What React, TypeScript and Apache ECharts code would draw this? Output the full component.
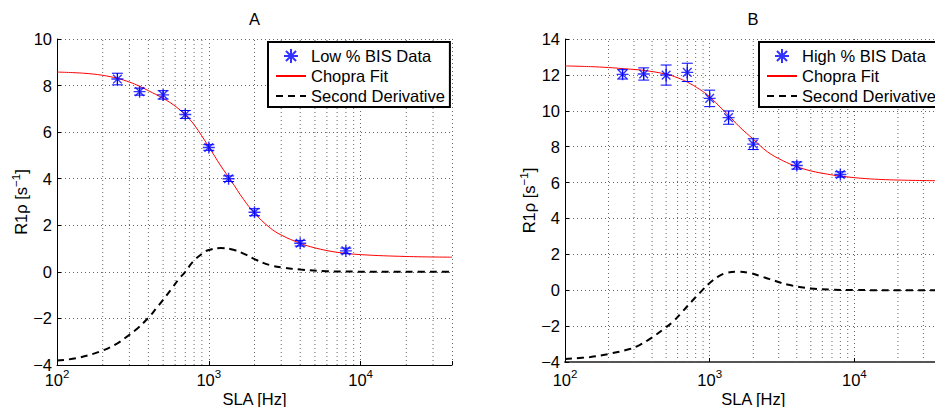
import React, { useEffect, useRef } from "react";
import * as echarts from "echarts";

// ---------- data ----------
const slaHz = [250, 350, 500, 700, 1000, 1350, 2000, 4000, 8000];

const lowBis = [8.28, 7.74, 7.6, 6.76, 5.34, 4.0, 2.56, 1.23, 0.9];
const lowBisErr = [0.25, 0.15, 0.18, 0.17, 0.12, 0.12, 0.15, 0.12, 0.12];

const highBis = [12.03, 12.05, 11.99, 12.14, 10.69, 9.62, 8.14, 6.95, 6.45];
const highBisErr = [0.26, 0.34, 0.56, 0.51, 0.46, 0.37, 0.3, 0.2, 0.15];

const fitHzA = [100, 150, 200, 250, 300, 350, 400, 500, 600, 700, 800, 1000, 1200, 1400, 1700, 2000, 2500, 3000, 4000, 5000, 7000, 10000, 20000, 40000];
const chopraFitA = [8.58, 8.53, 8.44, 8.31, 8.15, 7.97, 7.78, 7.45, 7.12, 6.74, 6.32, 5.37, 4.55, 3.92, 3.1, 2.52, 1.92, 1.58, 1.23, 1.03, 0.84, 0.74, 0.66, 0.63];

const derivHzA = [100, 133, 190, 250, 300, 340, 400, 450, 500, 565, 640, 700, 785, 900, 1000, 1200, 1450, 1770, 2000, 2500, 3100, 4000, 6000, 9000, 20000, 40000];
const secondDerivA = [-3.81, -3.71, -3.43, -3.07, -2.7, -2.42, -1.97, -1.57, -1.2, -0.75, -0.28, 0.0, 0.43, 0.77, 0.94, 1.02, 0.95, 0.73, 0.55, 0.3, 0.18, 0.1, 0.03, 0.01, 0, 0];

const fitHzB = [100, 150, 200, 250, 350, 500, 600, 700, 850, 1000, 1200, 1350, 1600, 2000, 2500, 3200, 4000, 5000, 6500, 8000, 12000, 20000, 40000];
const chopraFitB = [12.5, 12.46, 12.41, 12.35, 12.25, 12.04, 11.84, 11.6, 11.2, 10.78, 10.15, 9.75, 9.12, 8.42, 7.72, 7.22, 6.89, 6.65, 6.47, 6.36, 6.22, 6.14, 6.1];

const derivHzB = [100, 150, 200, 280, 330, 400, 475, 560, 640, 750, 850, 1000, 1150, 1300, 1550, 1900, 2200, 2600, 3500, 5000, 7000, 10000, 20000, 40000];
const secondDerivB = [-3.83, -3.72, -3.55, -3.28, -3.04, -2.63, -2.2, -1.74, -1.24, -0.63, -0.16, 0.4, 0.77, 0.96, 1.03, 0.96, 0.81, 0.62, 0.3, 0.1, 0.03, 0.01, 0, 0];

const minorGridHz = [200, 300, 400, 500, 600, 700, 800, 900, 2000, 3000, 4000, 5000, 6000, 7000, 8000, 9000, 20000, 30000];

const xRange = [100, 40000];
const yRangeA = [-4, 10];
const yRangeB = [-4, 14];
const yStep = 2;

const legendA = ["Low % BIS Data", "Chopra Fit", "Second Derivative"];
const legendB = ["High % BIS Data", "Chopra Fit", "Second Derivative"];
const titles = ["A", "B"];

// ---------- styling ----------
const FONT = '"Liberation Sans", Arial, Helvetica, sans-serif';
const FS = 16.5;
const BLUE = "#0000ff";
const STAR = "path://M0,-5L0,5M-5,0L5,0M-3.6,-3.6L3.6,3.6M-3.6,3.6L3.6,-3.6";
const GRID_LINE = { type: [1, 3], color: "#666", width: 1 };

function logLabel(v: number) {
  const e = Math.log10(v);
  if (Math.abs(e - Math.round(e)) > 1e-6) return "";
  return `{b|10}{s|${Math.round(e)}}`;
}

function yLabel(v: number) {
  return v < 0 ? "\u2212" + Math.abs(v) : String(v);
}

function makeX(gridIndex: number, lineColor: string, lineWidth: number, margin: number, nameGap: number) {
  return {
    type: "log",
    logBase: 10,
    gridIndex,
    min: xRange[0],
    max: xRange[1],
    name: "SLA [Hz]",
    nameLocation: "middle",
    nameGap,
    nameMoveOverlap: false,
    nameTextStyle: { fontSize: FS, lineHeight: 17, color: "#000", fontFamily: FONT },
    axisLine: { show: true, onZero: false, lineStyle: { color: lineColor, width: lineWidth } },
    axisTick: { show: true, inside: true, length: 4, lineStyle: { color: "#000" } },
    axisLabel: {
      formatter: logLabel,
      margin,
      color: "#000",
      fontFamily: FONT,
      rich: {
        b: { fontSize: FS, lineHeight: 24, color: "#000", fontFamily: FONT },
        s: { fontSize: 11.5, lineHeight: 10, verticalAlign: "top", color: "#000", fontFamily: FONT },
      },
    },
    splitLine: { show: true, lineStyle: GRID_LINE },
  };
}

function makeY(gridIndex: number, range: number[]) {
  return {
    type: "value",
    gridIndex,
    min: range[0],
    max: range[1],
    interval: yStep,
    name: "{b|R1\u03c1 [s}{s|\u22121}{b|]}",
    nameLocation: "middle",
    nameRotate: 90,
    nameGap: 25,
    nameMoveOverlap: false,
    nameTextStyle: {
      color: "#000",
      fontFamily: FONT,
      rich: {
        b: { fontSize: FS, lineHeight: 22, color: "#000", fontFamily: FONT },
        s: { fontSize: 11.5, lineHeight: 10, verticalAlign: "top", color: "#000", fontFamily: FONT },
      },
    },
    axisLine: { show: true, onZero: false, lineStyle: { color: "#000", width: 1 } },
    axisTick: { show: true, inside: true, length: 4, lineStyle: { color: "#000" } },
    axisLabel: { formatter: yLabel, fontSize: FS, margin: 5, color: "#000", fontFamily: FONT },
    splitLine: { show: true, lineStyle: GRID_LINE },
  };
}

function makeLegend(left: number, names: string[]) {
  return {
    left,
    top: 42,
    orient: "vertical",
    data: names.map((name, i) => (i === 0 ? { name } : { name, itemStyle: { opacity: 0 } })),
    itemWidth: 30,
    itemHeight: 14,
    itemGap: 2,
    padding: [5, 5, 2, 7],
    borderColor: "#000",
    borderWidth: 2,
    borderRadius: 0,
    backgroundColor: "#fff",
    selectedMode: false,
    textStyle: { fontSize: FS, lineHeight: 18, color: "#000", fontFamily: FONT },
  };
}

function errorBarSeries(idx: number, ys: number[], errs: number[]) {
  return {
    type: "custom",
    name: "err" + idx,
    xAxisIndex: idx,
    yAxisIndex: idx,
    z: 4,
    silent: true,
    encode: { x: 0, y: 1 },
    data: slaHz.map((x, i) => [x, ys[i], errs[i]]),
    renderItem: (_p: any, api: any) => {
      const x = api.value(0);
      const y = api.value(1);
      const e = api.value(2);
      const top = api.coord([x, y + e]);
      const bot = api.coord([x, y - e]);
      const hw = 5.5;
      const style = { stroke: BLUE, lineWidth: 1 };
      return {
        type: "group",
        children: [
          { type: "line", shape: { x1: top[0], y1: top[1], x2: bot[0], y2: bot[1] }, style },
          { type: "line", shape: { x1: top[0] - hw, y1: top[1], x2: top[0] + hw, y2: top[1] }, style },
          { type: "line", shape: { x1: bot[0] - hw, y1: bot[1], x2: bot[0] + hw, y2: bot[1] }, style },
        ],
      };
    },
  };
}

function minorGridSeries(idx: number, range: number[]) {
  return {
    type: "custom",
    name: "minor" + idx,
    xAxisIndex: idx,
    yAxisIndex: idx,
    z: 1,
    silent: true,
    encode: { x: 0, y: 1 },
    data: minorGridHz.map((x) => [x, range[0]]),
    renderItem: (_p: any, api: any) => {
      const x = api.value(0);
      const a = api.coord([x, range[0]]);
      const b = api.coord([x, range[1]]);
      return {
        type: "line",
        shape: { x1: a[0], y1: a[1], x2: b[0], y2: b[1] },
        style: { stroke: GRID_LINE.color, lineWidth: 1, lineDash: GRID_LINE.type },
      };
    },
  };
}

function scatterSeries(idx: number, name: string, ys: number[]) {
  return {
    type: "scatter",
    name,
    xAxisIndex: idx,
    yAxisIndex: idx,
    z: 5,
    symbol: STAR,
    symbolSize: 12,
    symbolKeepAspect: true,
    itemStyle: { color: "rgba(0,0,0,0)", borderColor: BLUE, borderWidth: 1.4 },
    emphasis: { disabled: true },
    data: slaHz.map((x, i) => [x, ys[i]]),
  };
}

function lineSeries(idx: number, name: string, xs: number[], ys: number[], lineStyle: any) {
  return {
    type: "line",
    name,
    xAxisIndex: idx,
    yAxisIndex: idx,
    z: 3,
    symbol: "none",
    showSymbol: false,
    smooth: 0.4,
    lineStyle,
    itemStyle: { color: lineStyle.color, opacity: 0 },
    emphasis: { disabled: true },
    data: xs.map((x, i) => [x, ys[i]]),
  };
}

export default function App() {
  const ref = useRef<HTMLDivElement>(null);

  useEffect(() => {
    if (!ref.current) return;
    const chart = echarts.init(ref.current, undefined, { renderer: "svg" });
    const red = { color: "#ff0000", width: 1, type: "solid" };
    const dash = { color: "#000", width: 2, type: [7, 5] };
    const option: any = {
      animation: false,
      backgroundColor: "#fff",
      textStyle: { fontFamily: FONT },
      grid: [
        { left: 57, top: 39, width: 395, height: 326, outerBoundsMode: "none" },
        { left: 565, top: 39, width: 376.5, height: 323, outerBoundsMode: "none" },
      ],
      xAxis: [makeX(0, "#000", 1, 3, 25), makeX(1, "#555", 2, 6, 28)],
      yAxis: [makeY(0, yRangeA), makeY(1, yRangeB)],
      legend: [makeLegend(268, legendA), makeLegend(759, legendB)],
      graphic: [
        { type: "text", x: 254.5, y: 19, style: { text: titles[0], fontSize: FS, fontFamily: FONT, fill: "#000", textAlign: "center", textVerticalAlign: "middle" } },
        { type: "text", x: 753, y: 19, style: { text: titles[1], fontSize: FS, fontFamily: FONT, fill: "#000", textAlign: "center", textVerticalAlign: "middle" } },
      ],
      series: [
        minorGridSeries(0, yRangeA),
        minorGridSeries(1, yRangeB),
        scatterSeries(0, legendA[0], lowBis),
        lineSeries(0, legendA[1], fitHzA, chopraFitA, red),
        lineSeries(0, legendA[2], derivHzA, secondDerivA, dash),
        errorBarSeries(0, lowBis, lowBisErr),
        scatterSeries(1, legendB[0], highBis),
        lineSeries(1, legendB[1], fitHzB, chopraFitB, red),
        lineSeries(1, legendB[2], derivHzB, secondDerivB, dash),
        errorBarSeries(1, highBis, highBisErr),
      ],
    };
    chart.setOption(option);
    return () => chart.dispose();
  }, []);

  return (
    <div style={{ position: "fixed", left: 0, top: 0, width: 935, height: 407, overflow: "hidden", background: "#fff" }}>
      <div ref={ref} style={{ width: 950, height: 407 }} />
    </div>
  );
}
